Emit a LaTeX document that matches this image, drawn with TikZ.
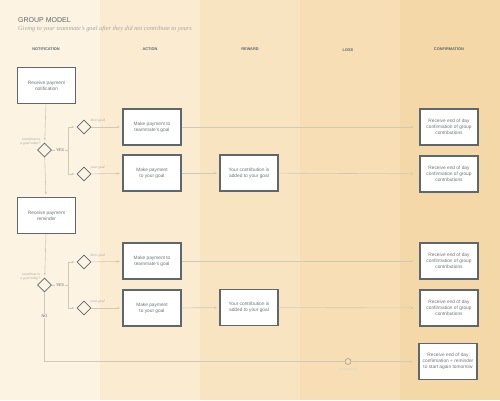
\documentclass[tikz,border=0pt]{standalone}
\usepackage{fontspec}
\setmainfont{Liberation Serif}
\setsansfont{Liberation Sans}
\usetikzlibrary{shapes.geometric, arrows.meta, positioning, calc}

\definecolor{laneA}{HTML}{FCF3E2}
\definecolor{laneB}{HTML}{FBEBD1}
\definecolor{laneC}{HTML}{F9E4C2}
\definecolor{laneD}{HTML}{F7DEB4}
\definecolor{laneE}{HTML}{F5D8A7}
\definecolor{boxline}{HTML}{5D686C}
\definecolor{boxtext}{HTML}{6E7477}
\definecolor{flow}{HTML}{D2C8B8}
\definecolor{note}{HTML}{A8A49D}

\tikzset{
  stepbox/.style={draw=boxline, line width=1.4pt, fill=white, minimum width=58pt,
    minimum height=36pt, align=center, inner sep=1pt, text=boxtext,
    font=\sffamily\fontsize{4.8}{6}\selectfont},
  choice/.style={diamond, draw=boxline, line width=0.8pt, minimum width=14pt,
    minimum height=14pt, inner sep=0pt},
  flowline/.style={draw=flow, line width=0.6pt},
  arr/.style={flowline, shorten >=2.5pt, -{Stealth[length=2.6pt,width=2.4pt]}},
  lanehead/.style={font=\sffamily\bfseries\fontsize{3.9}{4.5}\selectfont, text=boxline},
  aside/.style={font=\itshape\fontsize{3.6}{4.2}\selectfont, text=note, inner sep=0.5pt},
  tag/.style={font=\sffamily\fontsize{3.9}{4.5}\selectfont, text=boxline, inner sep=1pt},
}

\begin{document}
\begin{tikzpicture}[x=1pt,y=-1pt]
  \useasboundingbox (0,0) rectangle (500,400);

  % Swim lanes
  \fill[laneA] (0,0) rectangle (100,400);
  \fill[laneB] (100,0) rectangle (200,400);
  \fill[laneC] (200,0) rectangle (300,400);
  \fill[laneD] (300,0) rectangle (400,400);
  \fill[laneE] (400,0) rectangle (500,400);

  % Title
  \node[anchor=west, inner sep=0, text=boxline, font=\sffamily\fontsize{7}{8}\selectfont] (title) at (18,20.5) {GROUP MODEL};
  \node[anchor=west, inner sep=0, text=note, font=\itshape\fontsize{6.3}{7.5}\selectfont] (subtitle) at (18,28.5) {Giving to your teammate's goal after they did not contribute to yours};

  % Lane headings
  \node[lanehead] (hnotif) at (46,49.5) {NOTIFICATION};
  \node[lanehead] (haction) at (150,49.5) {ACTION};
  \node[lanehead] (hreward) at (250,49.5) {REWARD};
  \node[lanehead] (hloss) at (348,50) {LOSS};
  \node[lanehead] (hconf) at (449,49.5) {CONFIRMATION};

  % First round
  \node[stepbox] (notif) at (46.5,85.5) {Receive payment\\notification};
  \node[choice] (ask1) at (44.5,150) {};
  \node[aside, anchor=south east, align=right] (asklbl1) at (41,146) {contribute to\\a goal today?};
  \coordinate (split1) at (68,150);
  \node[choice] (their1) at (84,127) {};
  \node[aside, anchor=west] (theirlbl1) at (90,121) {their goal};
  \node[choice] (your1) at (84,174) {};
  \node[aside, anchor=west] (yourlbl1) at (90,168) {your goal};
  \node[stepbox] (mate1) at (152,127) {Make payment to\\teammate's goal};
  \node[stepbox] (self1) at (152,173) {Make payment\\to your goal};
  \node[stepbox] (added1) at (249,173) {Your contribution is\\added to your goal};
  \node[stepbox] (conf1) at (449,127) {Receive end of day\\confirmation of group\\contributions};
  \node[stepbox] (conf2) at (449,174) {Receive end of day\\confirmation of group\\contributions};

  \draw[arr] (notif) -- (ask1);
  \draw[flowline] (ask1) -- (split1) node[tag, midway, fill=laneA] (yes1) {YES};
  \draw[arr] (split1) |- (their1);
  \draw[arr] (split1) |- (your1);
  \draw[arr] (their1) -- (mate1);
  \draw[arr] (your1) -- (self1);
  \draw[arr, shorten >=6pt] (mate1) -- (conf1);
  \draw[arr] (self1) -- (added1);
  \draw[arr, shorten >=6pt] (added1) -- (conf2);

  % Second round
  \node[stepbox] (remind) at (46.5,215.5) {Receive payment\\reminder};
  \node[choice] (ask2) at (44.5,285) {};
  \node[aside, anchor=south east, align=right] (asklbl2) at (41,281) {contribute to\\a goal today?};
  \coordinate (split2) at (68,285);
  \node[choice] (their2) at (84,262) {};
  \node[aside, anchor=west] (theirlbl2) at (90,256) {their goal};
  \node[choice] (your2) at (84,308) {};
  \node[aside, anchor=west] (yourlbl2) at (90,302) {your goal};
  \node[stepbox] (mate2) at (152,261) {Make payment to\\teammate's goal};
  \node[stepbox] (self2) at (152,308) {Make payment\\to your goal};
  \node[stepbox] (added2) at (249,307.5) {Your contribution is\\added to your goal};
  \node[stepbox] (conf3) at (449,261) {Receive end of day\\confirmation of group\\contributions};
  \node[stepbox] (conf4) at (449,308) {Receive end of day\\confirmation of group\\contributions};

  \draw[arr] (ask1) -- (remind);
  \draw[arr] (remind) -- (ask2);
  \draw[flowline] (ask2) -- (split2) node[tag, midway, fill=laneA] (yes2) {YES};
  \draw[arr] (split2) |- (their2);
  \draw[arr] (split2) |- (your2);
  \draw[arr] (their2) -- (mate2);
  \draw[arr] (your2) -- (self2);
  \draw[arr, shorten >=6pt] (mate2) -- (conf3);
  \draw[arr] (self2) -- (added2);
  \draw[arr, shorten >=6pt] (added2) -- (conf4);

  % No contribution: lost potential
  \coordinate (corner) at (44.5,361.5);
  \node[draw=note, line width=0.7pt, circle, minimum size=6pt, inner sep=0pt] (lost) at (348,361.5) {};
  \node[aside, text=white!55!note, below=2pt of lost] (lostlbl) {lost potential};
  \node[stepbox] (final) at (448,361.5) {Receive end of day\\confirmation + reminder\\to start again tomorrow};
  \draw[flowline] (ask2) -- (corner) -- (lost);
  \node[tag, fill=laneA] (no) at (44.5,316) {NO};
  \draw[arr, shorten >=6pt] (lost) -- (final);
\end{tikzpicture}
\end{document}
